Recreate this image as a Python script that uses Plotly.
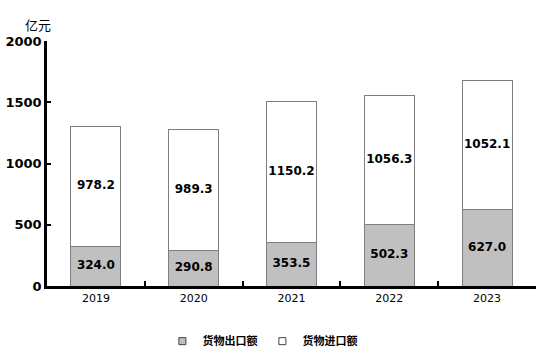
import plotly.graph_objects as go

years = ["2019", "2020", "2021", "2022", "2023"]
exports = [324.0, 290.8, 353.5, 502.3, 627.0]
imports = [978.2, 989.3, 1150.2, 1056.3, 1052.1]
y_ticks = [0, 500, 1000, 1500, 2000]

label_font = dict(family="DejaVu Sans", size=12, color="black", weight="bold")

fig = go.Figure()
fig.add_trace(go.Bar(
    x=years, y=exports, name="货物出口额", showlegend=False,
    marker=dict(color="#c0c0c0", line=dict(color="#7f7f7f", width=1)),
))
fig.add_trace(go.Bar(
    x=years, y=imports, name="货物进口额", showlegend=False,
    marker=dict(color="white", line=dict(color="#7f7f7f", width=1)),
))
# value labels at segment centres
fig.add_trace(go.Scatter(
    x=years, y=[v / 2 for v in exports], mode="text",
    text=[f"{v:.1f}" for v in exports], textfont=label_font,
    showlegend=False, hoverinfo="skip",
))
fig.add_trace(go.Scatter(
    x=years, y=[e + v / 2 for e, v in zip(exports, imports)], mode="text",
    text=[f"{v:.1f}" for v in imports], textfont=label_font,
    showlegend=False, hoverinfo="skip",
))
# legend entries
fig.add_trace(go.Scatter(
    x=[None], y=[None], mode="markers", name="货物出口额",
    marker=dict(symbol="square", size=7, color="#c0c0c0", line=dict(color="#404040", width=1)),
))
fig.add_trace(go.Scatter(
    x=[None], y=[None], mode="markers", name="货物进口额",
    marker=dict(symbol="square", size=7, color="white", line=dict(color="#404040", width=1)),
))

fig.update_layout(
    barmode="stack", bargap=0.49,
    width=541, height=361,
    margin=dict(l=47, r=5, t=41, b=75, autoexpand=False),
    plot_bgcolor="white", paper_bgcolor="white",
    showlegend=True,
    legend=dict(orientation="h", xref="container", yref="container",
                x=0.485, xanchor="center", y=0.055, yanchor="middle",
                traceorder="normal",
                font=dict(family="Noto Sans CJK SC", size=11, color="black", weight="bold"),
                itemwidth=30, tracegroupgap=0),
)
fig.update_xaxes(
    showline=True, linecolor="black", linewidth=2.5,
    ticks="inside", ticklen=5, tickwidth=2, tickcolor="black",
    tickson="boundaries", showgrid=False,
    tickfont=dict(family="DejaVu Sans", size=11, color="black"),
)
fig.update_yaxes(
    range=[0, 2000], tickvals=y_ticks,
    showline=True, linecolor="black", linewidth=2.5,
    ticks="inside", ticklen=4, tickwidth=2, tickcolor="black",
    showgrid=False, zeroline=False,
    tickfont=dict(family="DejaVu Sans", size=13, color="black", weight="bold"),
)
fig.add_annotation(text="亿元", xref="paper", yref="paper", x=0, y=1.0,
                   xanchor="right", yanchor="bottom", xshift=6, yshift=5,
                   showarrow=False,
                   font=dict(family="Noto Sans CJK SC", size=13, color="black"))

fig.write_html("out.html")
